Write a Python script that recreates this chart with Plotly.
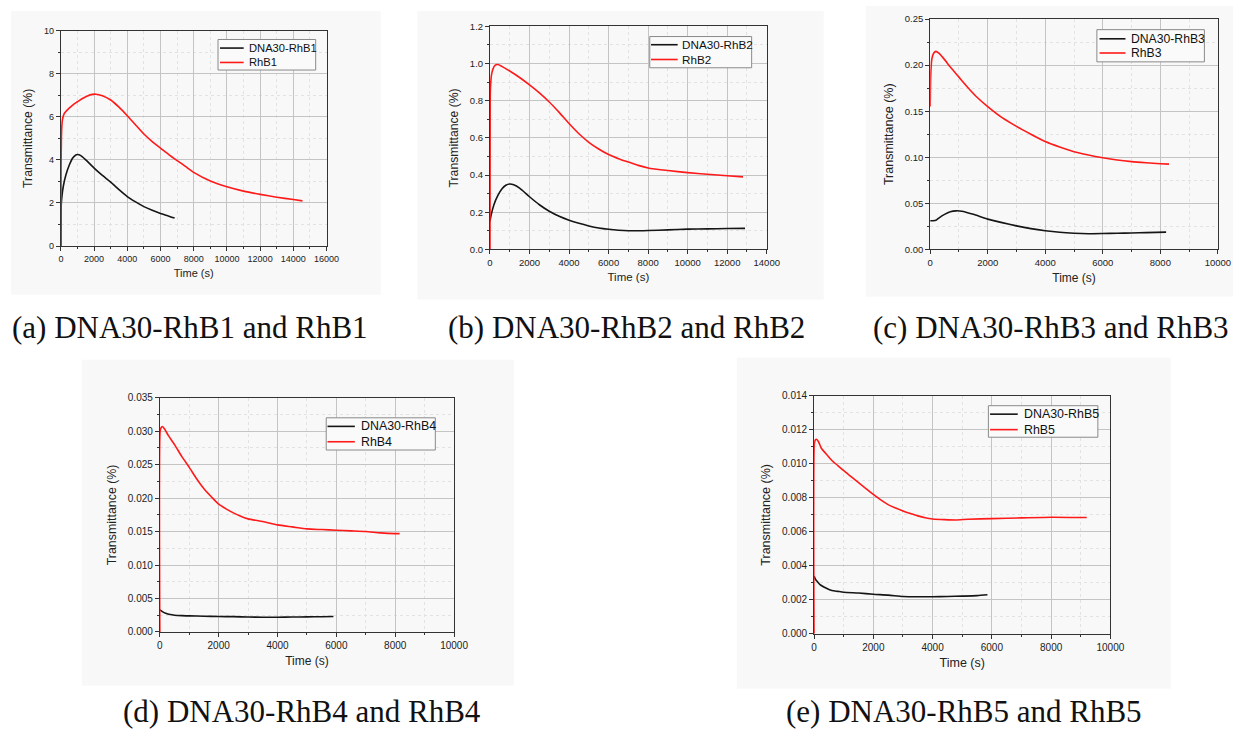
import plotly.graph_objects as go

W, H = 1247, 743

# ---------------- data ----------------
# (a)
t_a_dna = [0, 20, 60, 150, 300, 500, 700, 900, 1000, 1200, 1500, 2000, 2500, 3000, 3500, 4000, 4500, 5000, 5500, 6000, 6500, 6850]
v_a_dna = [0, 1.9, 2.3, 2.8, 3.3, 3.75, 4.08, 4.23, 4.25, 4.2, 4.0, 3.62, 3.28, 2.97, 2.62, 2.3, 2.05, 1.83, 1.66, 1.51, 1.39, 1.3]
t_a_rhb = [0, 10, 30, 60, 100, 200, 300, 500, 800, 1000, 1300, 1600, 1900, 2100, 2500, 3000, 3500, 4000, 4500, 5000, 5500, 6000, 6500, 7000, 7500, 8000, 9000, 10000, 11000, 12000, 13000, 14000, 14550]
v_a_rhb = [0, 3.5, 5.0, 5.6, 5.9, 6.15, 6.25, 6.4, 6.6, 6.7, 6.85, 6.97, 7.04, 7.05, 6.98, 6.78, 6.45, 6.05, 5.62, 5.2, 4.85, 4.55, 4.25, 3.97, 3.7, 3.42, 3.02, 2.75, 2.55, 2.4, 2.27, 2.16, 2.1]
# (b)
t_b_dna = [0, 50, 200, 400, 600, 800, 1000, 1200, 1500, 2000, 2500, 3000, 3500, 4000, 4500, 5000, 5500, 6000, 6500, 7000, 7500, 8000, 9000, 10000, 11000, 12000, 12900]
v_b_dna = [0.15, 0.18, 0.24, 0.29, 0.325, 0.345, 0.352, 0.348, 0.33, 0.283, 0.24, 0.205, 0.178, 0.157, 0.14, 0.126, 0.115, 0.108, 0.103, 0.1, 0.1, 0.101, 0.105, 0.109, 0.11, 0.112, 0.113]
t_b_rhb = [0, 10, 30, 80, 150, 250, 400, 600, 1000, 1500, 2000, 2500, 3000, 3500, 4000, 4500, 5000, 5500, 6000, 6500, 7000, 7500, 8000, 9000, 10000, 11000, 12000, 12800]
v_b_rhb = [0, 0.8, 0.88, 0.94, 0.97, 0.99, 0.995, 0.985, 0.96, 0.925, 0.885, 0.842, 0.793, 0.737, 0.677, 0.622, 0.576, 0.54, 0.51, 0.488, 0.47, 0.452, 0.438, 0.424, 0.413, 0.404, 0.396, 0.39]
# (c)
t_c_dna = [0, 100, 200, 300, 500, 700, 900, 1100, 1500, 2000, 2500, 3000, 3500, 4000, 4500, 5000, 5500, 6000, 6500, 7000, 7500, 8200]
v_c_dna = [0.031, 0.031, 0.0315, 0.034, 0.038, 0.0408, 0.0418, 0.0414, 0.038, 0.0328, 0.029, 0.0255, 0.0225, 0.0202, 0.0185, 0.0175, 0.017, 0.0172, 0.0175, 0.0178, 0.0182, 0.0187]
t_c_rhb = [0, 20, 60, 120, 200, 300, 500, 700, 1000, 1300, 1600, 2000, 2500, 3000, 3500, 4000, 4500, 5000, 5500, 6000, 6500, 7000, 7500, 8000, 8300]
v_c_rhb = [0.155, 0.19, 0.207, 0.213, 0.215, 0.213, 0.206, 0.198, 0.187, 0.176, 0.166, 0.155, 0.143, 0.1335, 0.125, 0.117, 0.111, 0.106, 0.1025, 0.0995, 0.097, 0.0952, 0.094, 0.093, 0.0925]
# (d)
t_d_dna = [0, 100, 200, 350, 500, 750, 1000, 1500, 2000, 2500, 3000, 3500, 4000, 4500, 5000, 5500, 5900]
v_d_dna = [0.0033, 0.003, 0.0028, 0.0026, 0.0025, 0.00243, 0.0024, 0.00235, 0.0023, 0.00228, 0.00222, 0.0022, 0.0022, 0.00222, 0.00225, 0.00227, 0.0023]
t_d_rhb = [0, 10, 40, 80, 150, 300, 500, 750, 1000, 1250, 1500, 1750, 2000, 2250, 2500, 2750, 3000, 3500, 4000, 4500, 5000, 5500, 6000, 6500, 7000, 7500, 8000, 8150]
v_d_rhb = [0, 0.03, 0.0305, 0.0307, 0.0304, 0.0293, 0.028, 0.0262, 0.0246, 0.0229, 0.0214, 0.0202, 0.0191, 0.0184, 0.0178, 0.0173, 0.0169, 0.0165, 0.016, 0.0157, 0.0154, 0.0153, 0.0152, 0.0151, 0.015, 0.0148, 0.0147, 0.0147]
# (e)
t_e_dna = [0, 50, 100, 200, 400, 600, 800, 1000, 1500, 2000, 2500, 3000, 3500, 4000, 4500, 5000, 5500, 5850]
v_e_dna = [0.0034, 0.0032, 0.0031, 0.0029, 0.0027, 0.00255, 0.0025, 0.00245, 0.0024, 0.00233, 0.00228, 0.0022, 0.00218, 0.00218, 0.0022, 0.00222, 0.00225, 0.0023]
t_e_rhb = [0, 10, 40, 80, 150, 250, 400, 600, 800, 1000, 1250, 1500, 1750, 2000, 2250, 2500, 2750, 3000, 3250, 3500, 3750, 4000, 4400, 4800, 5200, 6000, 7000, 8000, 9200]
v_e_rhb = [0, 0.0112, 0.0114, 0.01145, 0.0113, 0.0109, 0.0106, 0.0102, 0.0099, 0.0096, 0.00925, 0.0089, 0.00855, 0.0082, 0.00788, 0.0076, 0.0074, 0.00723, 0.00708, 0.00694, 0.00683, 0.00676, 0.00672, 0.0067, 0.00674, 0.00678, 0.00682, 0.00686, 0.00684]

names_dna = ["DNA30-RhB1", "DNA30-RhB2", "DNA30-RhB3", "DNA30-RhB4", "DNA30-RhB5"]
names_rhb = ["RhB1", "RhB2", "RhB3", "RhB4", "RhB5"]
captions = ["(a) DNA30-RhB1 and RhB1", "(b) DNA30-RhB2 and RhB2", "(c) DNA30-RhB3 and RhB3",
            "(d) DNA30-RhB4 and RhB4", "(e) DNA30-RhB5 and RhB5"]

series = [
    (t_a_dna, v_a_dna, t_a_rhb, v_a_rhb),
    (t_b_dna, v_b_dna, t_b_rhb, v_b_rhb),
    (t_c_dna, v_c_dna, t_c_rhb, v_c_rhb),
    (t_d_dna, v_d_dna, t_d_rhb, v_d_rhb),
    (t_e_dna, v_e_dna, t_e_rhb, v_e_rhb),
]

# ---------------- layout geometry (pixels) ----------------
plots = [  # left, right, top, bottom
    (58.7, 328, 25, 243.7),
    (493.7, 774.3, 20.7, 247),
    (940, 1231.7, 13.3, 247),
    (159, 457.3, 397.7, 635.3),
    (822.3, 1122.7, 395.7, 637.3),
]
panels = [
    (8, 383, 5, 293),
    (420, 832, 5, 298),
    (875, 1247, 0, 295),
    (80, 518, 359, 690),
    (744, 1184, 357, 693),
]
# legend boxes: left, right, top, bottom, line-y1, line-y2, line-x0, line-x1, text-x, font size
legend_geo = [
    (218, 317, 34, 65, 42.7, 57.3, 220, 244, 247, 11.2),
    (655.7, 759, 31, 62.7, 39.3, 54.3, 657, 684, 686.7, 11.7),
    (1109, 1218, 24, 56.7, 33.3, 47.7, 1111.7, 1138, 1141.7, 12.2),
    (327.7, 438.3, 418, 450.7, 426.7, 442.3, 329, 356.7, 361, 12.4),
    (999, 1110, 405.7, 437.7, 414.3, 430, 1000.7, 1028.7, 1032.7, 12.4),
]
xranges = [[0, 16000], [0, 14000], [0, 10000], [0, 10000], [0, 10000]]
yranges = [[0, 10], [0, 1.2], [0, 0.25], [0, 0.035], [0, 0.014]]
ydticks = [2, 0.2, 0.05, 0.005, 0.002]
yfmts = ["d", ".1f", ".2f", ".3f", ".3f"]
tickfs = [9, 9.5, 9.5, 10, 10]
xtitlefs = [11, 11.5, 12, 12, 12.5]
ytitlefs = [12.2, 12.2, 12.5, 12.4, 12.5]
caption_pos = [(190, 326), (632, 326), (1062, 326), (303, 716), (974, 716)]

BLACK = "#151515"
RED = "#ff1a1a"

fig = go.Figure()
layout = dict(width=W, height=H, margin=dict(l=0, r=0, t=0, b=0),
              paper_bgcolor="white", plot_bgcolor="#f8f8f8", showlegend=False,
              font=dict(family="Liberation Sans, Arial, sans-serif", color="#222"),
              shapes=[], annotations=[])


def px(x):
    return x / W


def py(y):
    return 1 - y / H


for i in range(5):
    k = "" if i == 0 else str(i + 1)
    l, r, t, b = plots[i]
    td, vd, tr, vr = series[i]
    fig.add_trace(go.Scatter(x=td, y=vd, mode="lines", name=names_dna[i],
                             line=dict(color=BLACK, width=1.6, shape="spline", smoothing=0.6),
                             xaxis="x" + k, yaxis="y" + k))
    fig.add_trace(go.Scatter(x=tr, y=vr, mode="lines", name=names_rhb[i],
                             line=dict(color=RED, width=1.6, shape="spline", smoothing=0.6),
                             xaxis="x" + k, yaxis="y" + k))
    common = dict(showline=True, mirror=True, linecolor="#333", linewidth=1,
                  ticks="outside", ticklen=4, tickcolor="#333",
                  showgrid=True, gridcolor="#c4c4c4", gridwidth=1, zeroline=False,
                  tickfont=dict(size=tickfs[i], color="#222"))
    layout["xaxis" + k] = dict(common, domain=[px(l), px(r)], anchor="y" + k,
                               range=xranges[i], dtick=2000, tick0=0, tickformat="d",
                               minor=dict(dtick=1000, ticks="outside", ticklen=2, tickcolor="#333",
                                          showgrid=True, gridcolor="#e2e2e2", griddash="dot"),
                               title=dict(text="Time (s)", font=dict(size=xtitlefs[i], color="#222"), standoff=6))
    layout["yaxis" + k] = dict(common, domain=[py(b), py(t)], anchor="x" + k,
                               range=yranges[i], dtick=ydticks[i], tick0=0, tickformat=yfmts[i],
                               minor=dict(dtick=ydticks[i] / 2, ticks="outside", ticklen=2, tickcolor="#333",
                                          showgrid=True, gridcolor="#e2e2e2", griddash="dot"),
                               title=dict(text="Transmittance (%)", font=dict(size=ytitlefs[i], color="#222"), standoff=8))
    # panel background
    pl, pr, pt, pb = panels[i]
    layout["shapes"].append(dict(type="rect", xref="paper", yref="paper",
                                 x0=px(pl), x1=px(pr), y0=py(pb), y1=py(pt),
                                 fillcolor="#f8f8f8", line=dict(width=0), layer="below"))
    # legend box (drawn)
    gl, gr, gt, gb, ly1, ly2, lx0, lx1, tx, fs = legend_geo[i]
    layout["shapes"].append(dict(type="rect", xref="paper", yref="paper",
                                 x0=px(gl), x1=px(gr), y0=py(gb), y1=py(gt),
                                 fillcolor="#fafafa", line=dict(color="#8a8a8a", width=1), layer="above"))
    for yy, col, nm in ((ly1, BLACK, names_dna[i]), (ly2, RED, names_rhb[i])):
        layout["shapes"].append(dict(type="line", xref="paper", yref="paper",
                                     x0=px(lx0), x1=px(lx1), y0=py(yy), y1=py(yy),
                                     line=dict(color=col, width=1.6), layer="above"))
        layout["annotations"].append(dict(text=nm, xref="paper", yref="paper",
                                          x=px(tx), y=py(yy), xanchor="left", yanchor="middle",
                                          showarrow=False, font=dict(size=fs, color="#111")))
    cx, cy = caption_pos[i]
    layout["annotations"].append(dict(text=captions[i], xref="paper", yref="paper",
                                      x=px(cx), y=py(cy), xanchor="center", yanchor="middle",
                                      showarrow=False,
                                      font=dict(family="Liberation Serif, serif", size=31, color="#111")))

fig.update_layout(**layout)
fig.write_html("out.html")
